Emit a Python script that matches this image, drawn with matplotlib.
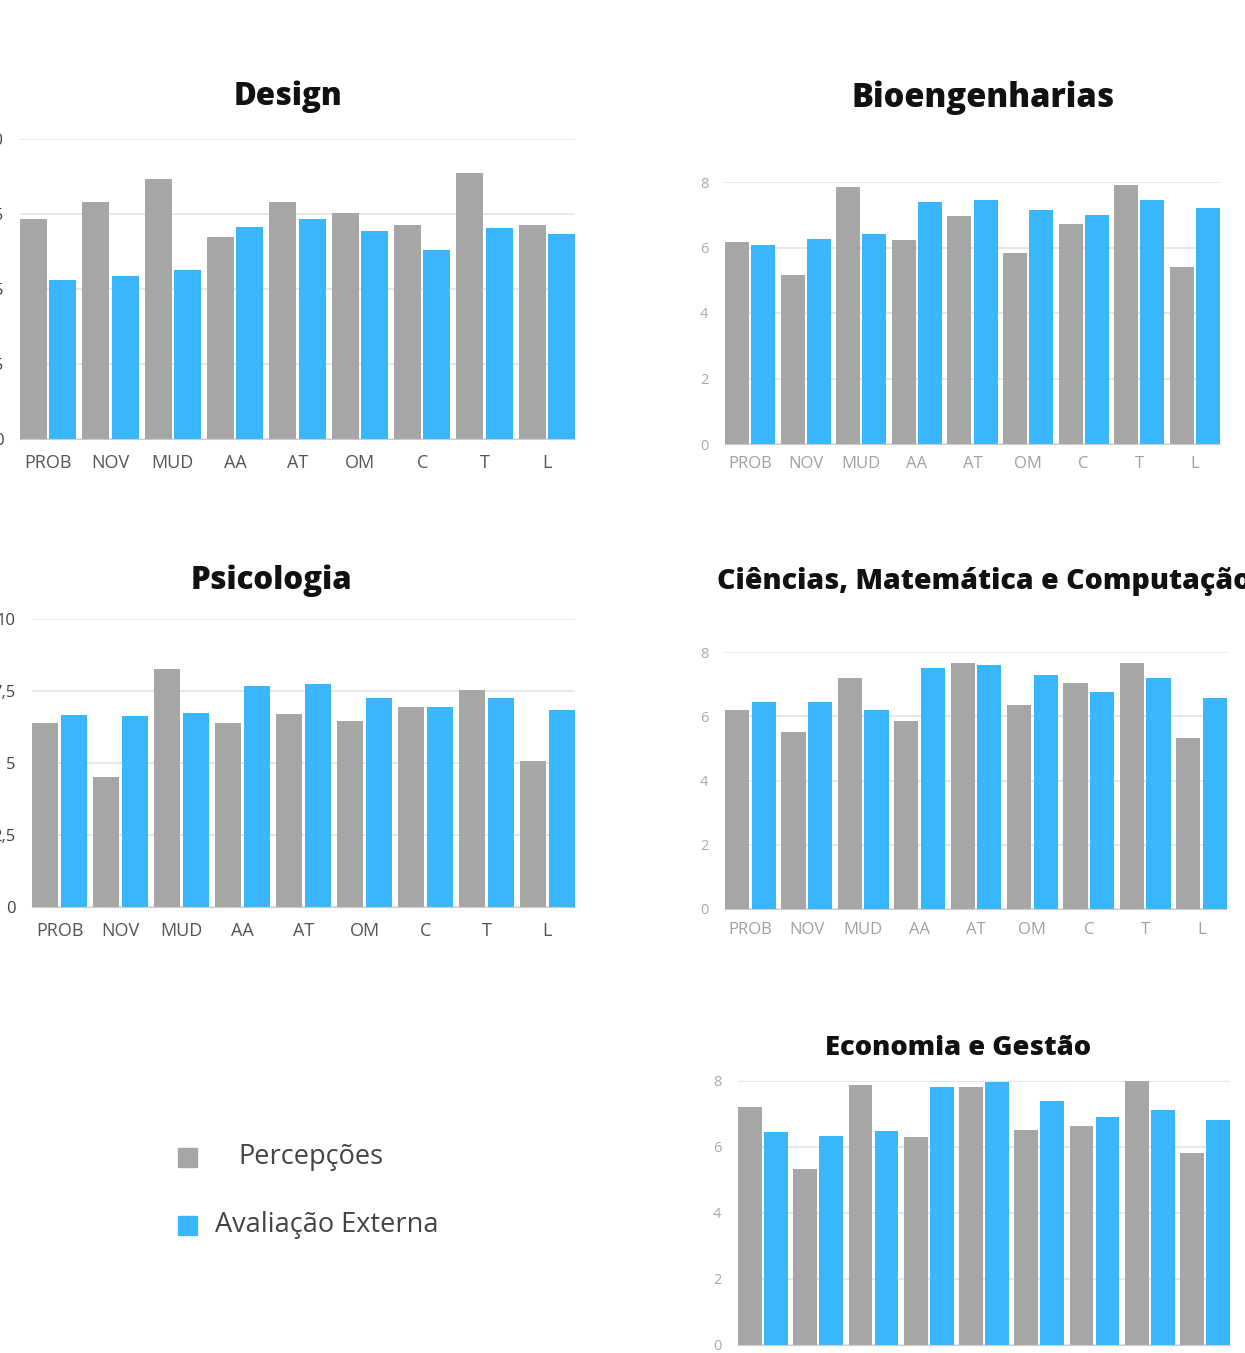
import numpy as np
import matplotlib
matplotlib.use('Agg')
import matplotlib.pyplot as plt
from matplotlib.patches import Rectangle

plt.rcParams['font.family'] = ['Open Sans', 'DejaVu Sans']

W, H = 1245, 1353

categories = ['PROB', 'NOV', 'MUD', 'AA', 'AT', 'OM', 'C', 'T', 'L']

design_perc = [7.33, 7.90, 8.67, 6.74, 7.90, 7.52, 7.13, 8.86, 7.13]
design_ext = [5.30, 5.43, 5.63, 7.08, 7.32, 6.93, 6.30, 7.04, 6.84]

bio_perc = [6.16, 5.16, 7.84, 6.22, 6.95, 5.83, 6.71, 7.91, 5.40]
bio_ext = [6.08, 6.27, 6.40, 7.38, 7.44, 7.14, 6.99, 7.44, 7.21]

psico_perc = [6.40, 4.52, 8.26, 6.40, 6.70, 6.47, 6.96, 7.54, 5.08]
psico_ext = [6.67, 6.64, 6.75, 7.68, 7.74, 7.25, 6.93, 7.25, 6.85]

cmc_perc = [6.18, 5.50, 7.19, 5.86, 7.67, 6.34, 7.02, 7.67, 5.33]
cmc_ext = [6.43, 6.44, 6.18, 7.49, 7.59, 7.27, 6.76, 7.19, 6.56]

eco_perc = [7.20, 5.33, 7.89, 6.31, 7.81, 6.52, 6.65, 8.00, 5.82]
eco_ext = [6.44, 6.33, 6.48, 7.83, 7.98, 7.40, 6.91, 7.12, 6.81]

yticks_10 = [0, 2.5, 5, 7.5, 10]
yticks_10_labels = ['0', '2,5', '5', '7,5', '10']
yticks_8 = [0, 2, 4, 6, 8]
yticks_8_labels = ['0', '2', '4', '6', '8']

GRAY = '#a6a6a6'
BLUE = '#38b6ff'

fig = plt.figure(figsize=(W / 100, H / 100), dpi=100)


def px_axes(left, right, top, bottom):
    return fig.add_axes([left / W, 1 - bottom / H, (right - left) / W, (bottom - top) / H])


def draw_panel(box, perc, ext, yticks, ylabels, tick_color, ytick_size, xtick_color, xtick_size, pad, xpad):
    ax = px_axes(*box)
    x = np.arange(len(categories))
    bw = 0.43
    ax.bar(x - 0.235, perc, bw, color=GRAY, zorder=3)
    ax.bar(x + 0.235, ext, bw, color=BLUE, zorder=3)
    ax.set_xlim(-0.452, len(categories) - 1 + 0.452)
    ax.set_ylim(0, yticks[-1])
    ax.set_yticks(yticks)
    ax.set_yticklabels(ylabels, fontsize=ytick_size, color=tick_color)
    ax.set_xticks(x)
    ax.set_xticklabels(categories, fontsize=xtick_size, color=xtick_color)
    ax.tick_params(length=0)
    ax.tick_params(axis='y', pad=pad)
    ax.tick_params(axis='x', pad=xpad)
    ax.grid(axis='y', color='#e3e3e3', linewidth=1.2, zorder=0)
    for s in ['top', 'left', 'right']:
        ax.spines[s].set_visible(False)
    ax.spines['bottom'].set_color('#cccccc')
    ax.spines['bottom'].set_zorder(4)
    return ax


draw_panel((20, 575, 139, 439), design_perc, design_ext, yticks_10, yticks_10_labels,
           '#444444', 12, '#555555', 13, 12, 11)
draw_panel((725, 1220, 182, 444), bio_perc, bio_ext, yticks_8, yticks_8_labels,
           '#b0a8a0', 10.5, '#a0a0a0', 12, 12, 9)
draw_panel((32, 575, 619, 907), psico_perc, psico_ext, yticks_10, yticks_10_labels,
           '#444444', 12, '#555555', 13, 12, 11)
draw_panel((725, 1227, 652, 909), cmc_perc, cmc_ext, yticks_8, yticks_8_labels,
           '#b0a8a0', 10.5, '#a0a0a0', 12, 12, 9)
draw_panel((738, 1230, 1081, 1345), eco_perc, eco_ext, yticks_8, yticks_8_labels,
           '#b0a8a0', 10.5, '#a0a0a0', 12, 12, 9)


def title(x, y, text, size, ha='center'):
    fig.text(x / W, 1 - y / H, text, fontsize=size, fontweight='heavy',
             ha=ha, va='center', color='#111111')


title(288, 97, 'Design', 22.5)
title(983, 98, 'Bioengenharias', 23.5)
title(271, 581, 'Psicologia', 22.5)
title(717, 582, 'Ciências, Matemática e Computação', 20.5, ha='left')
title(958, 1048, 'Economia e Gestão', 19.7)

# legend
for (sx, sy, c) in [(178, 1148, GRAY), (178, 1216, BLUE)]:
    fig.add_artist(Rectangle((sx / W, 1 - (sy + 19) / H), 19 / W, 19 / H,
                             transform=fig.transFigure, color=c))
fig.text(238 / W, 1 - 1157 / H, 'Percepções', fontsize=19.5, color='#444444', va='center', ha='left')
fig.text(215 / W, 1 - 1225 / H, 'Avaliação Externa', fontsize=19.5, color='#444444', va='center', ha='left')

fig.savefig('out.png', dpi=100)
